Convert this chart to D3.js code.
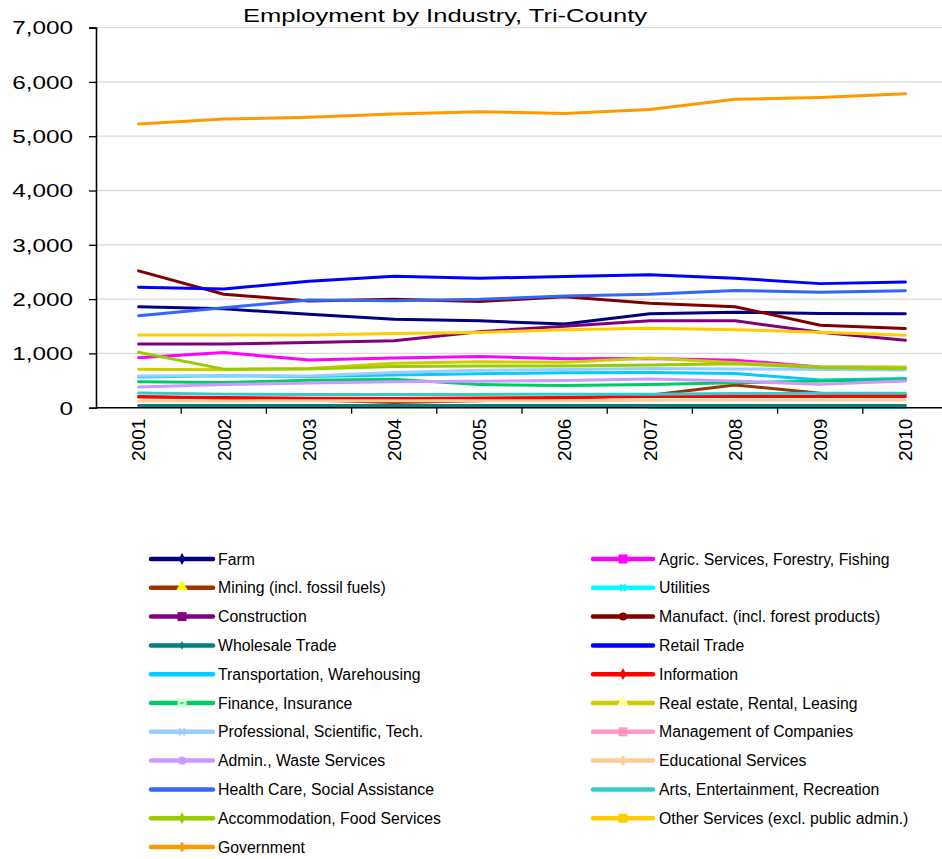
<!DOCTYPE html>
<html>
<head>
<meta charset="utf-8">
<script src="https://cdn.jsdelivr.net/npm/d3@7"></script>
<style>
  html, body { margin: 0; padding: 0; background: #fff; overflow: hidden; }
  svg { display: block; font-family: "Liberation Sans", Arial, sans-serif; }
</style>
</head>
<body>
<svg id="chart" width="942" height="859"></svg>
<script>
// ---------- data ----------
const years = ["2001","2002","2003","2004","2005","2006","2007","2008","2009","2010"];
const yTicks = [0, 1000, 2000, 3000, 4000, 5000, 6000, 7000];
const title = "Employment by Industry, Tri-County";

const seriesNames = [
  "Farm", "Agric. Services, Forestry, Fishing",
  "Mining (incl. fossil fuels)", "Utilities",
  "Construction", "Manufact. (incl. forest products)",
  "Wholesale Trade", "Retail Trade",
  "Transportation, Warehousing", "Information",
  "Finance, Insurance", "Real estate, Rental, Leasing",
  "Professional, Scientific, Tech.", "Management of Companies",
  "Admin., Waste Services", "Educational Services",
  "Health Care, Social Assistance", "Arts, Entertainment, Recreation",
  "Accommodation, Food Services", "Other Services (excl. public admin.)",
  "Government"
];

const farm          = [1860, 1820, 1720, 1630, 1600, 1540, 1730, 1760, 1735, 1730];
const agric         = [920, 1015, 880, 915, 945, 900, 905, 875, 750, 740];
const mining        = [205, 175, 140, 95, 130, 180, 230, 420, 265, 250];
const utilities     = [null, null, null, null, null, null, 10, 10, 10, 10];
const construction  = [1175, 1175, 1200, 1235, 1400, 1500, 1600, 1600, 1390, 1240];
const manufact      = [2520, 2090, 1965, 1995, 1955, 2045, 1925, 1860, 1520, 1460];
const wholesale     = [40, 40, 40, 40, 40, 40, 40, 40, 40, 40];
const retail        = [2220, 2185, 2330, 2420, 2385, 2415, 2450, 2385, 2285, 2315];
const transport     = [565, 590, 575, 600, 625, 645, 650, 630, 510, 540];
const information   = [195, 190, 175, 170, 180, 190, 205, 205, 205, 205];
const finance       = [480, 465, 505, 525, 425, 410, 425, 460, 490, 520];
const realEstate    = [710, 700, 720, 820, 845, 835, 915, 830, 750, 750];
const professional  = [585, 590, 585, 650, 690, 705, 720, 715, 705, 695];
const management    = [null, null, null, null, null, null, null, null, null, null];
const admin         = [380, 425, 455, 480, 485, 500, 530, 490, 430, 490];
const educational   = [125, 125, 130, 130, 130, 130, 135, 140, 140, 140];
const health        = [1695, 1840, 1985, 1970, 1995, 2055, 2090, 2160, 2125, 2155];
const arts          = [270, 250, 245, 245, 245, 250, 250, 260, 265, 265];
const accommodation = [1020, 710, 715, 760, 770, 770, 785, 810, 740, 720];
const otherServices = [1340, 1340, 1340, 1365, 1385, 1435, 1465, 1435, 1390, 1335];
const government    = [5225, 5315, 5350, 5410, 5450, 5420, 5490, 5680, 5715, 5780];

const seriesValues = [farm, agric, mining, utilities, construction, manufact, wholesale, retail,
  transport, information, finance, realEstate, professional, management, admin, educational,
  health, arts, accommodation, otherServices, government];

const colors = ["#000080", "#FF00FF", "#993300", "#00FFFF", "#800080", "#800000", "#008080", "#0000FF",
  "#00CCFF", "#FF0000", "#00CC66", "#CCCC00", "#99CCFF", "#FF99CC", "#CC99FF", "#FFCC99",
  "#3366FF", "#33CCCC", "#99CC00", "#FFCC00", "#FF9900"];

// legend marker: [shape, fill]
const markers = [
  ["diamond", "#000080"], ["square", "#FF00FF"], ["triangle", "#FFFF00"], ["star", "#00FFFF"],
  ["squareX", "#800080"], ["circle", "#800000"], ["smalldiamond", "#008080"], ["none", null],
  ["none", null], ["diamond", "#FF0000"], ["squareDash", "#CCFFCC"], ["triangle", "#FFFF99"],
  ["star", "#99CCFF"], ["square", "#FF99CC"], ["circle", "#CC99FF"], ["plus", "#FFCC99"],
  ["none", null], ["none", null], ["diamond", "#99CC00"], ["square", "#FFCC00"], ["plus", "#FF9900"]
];

// ---------- layout ----------
const svg = d3.select("#chart");
const plotLeft = 96, plotRight = 948, plotTop = 27.6, plotBottom = 407.7;

const x = d3.scaleBand().domain(years).range([plotLeft, plotRight]).padding(0);
const y = d3.scaleLinear().domain([0, 7000]).range([plotBottom, plotTop]);
const cx = d => x(d) + x.bandwidth() / 2;

// gridlines
svg.append("g").selectAll("line").data(yTicks.filter(t => t > 0)).join("line")
  .attr("x1", plotLeft).attr("x2", 942)
  .attr("y1", d => y(d)).attr("y2", d => y(d))
  .attr("stroke", "#D9D9D9").attr("stroke-width", 1.3);

// y axis
const yAxis = svg.append("g").attr("transform", `translate(${plotLeft},0)`)
  .call(d3.axisLeft(y).tickValues(yTicks).tickSize(7).tickFormat(() => ""));
yAxis.select(".domain").attr("stroke", "#000").attr("stroke-width", 1.6);
yAxis.selectAll(".tick line").attr("stroke", "#000").attr("stroke-width", 1.3);

svg.append("g").selectAll("text").data(yTicks).join("text")
  .attr("transform", d => `translate(73,${y(d)}) scale(1.28,1)`)
  .attr("text-anchor", "end").attr("dy", "0.36em")
  .attr("font-size", 19).attr("fill", "#000")
  .text(d => d3.format(",")(d));

// lines
const line = d3.line()
  .defined(d => d.v != null)
  .x(d => cx(d.year))
  .y(d => y(d.v));

const lineG = svg.append("g");
seriesValues.forEach((vals, i) => {
  const pts = years.map((yr, j) => ({year: yr, v: vals[j]}));
  lineG.append("path").datum(pts)
    .attr("d", line)
    .attr("fill", "none")
    .attr("stroke", colors[i])
    .attr("stroke-width", 3)
    .attr("stroke-linejoin", "round")
    .attr("stroke-linecap", "round");
});

// x axis
const xAxis = svg.append("g").attr("transform", `translate(0,${plotBottom})`);
xAxis.append("line").attr("x1", plotLeft).attr("x2", 942).attr("y1", 0).attr("y2", 0)
  .attr("stroke", "#000").attr("stroke-width", 1.6);
xAxis.selectAll("line.tk").data(years.slice(1)).join("line").attr("class", "tk")
  .attr("x1", d => x(d)).attr("x2", d => x(d)).attr("y1", 0).attr("y2", 6)
  .attr("stroke", "#000").attr("stroke-width", 1.3);
xAxis.selectAll("text").data(years).join("text")
  .attr("transform", d => `translate(${cx(d)},11) rotate(-90)`)
  .attr("text-anchor", "end").attr("dy", "0.36em")
  .attr("font-size", 19).attr("fill", "#000")
  .text(d => d);

// title
svg.append("text").attr("x", 445).attr("y", 22)
  .attr("text-anchor", "middle").attr("font-size", 19)
  .attr("textLength", 404).attr("lengthAdjust", "spacingAndGlyphs")
  .text(title);

// legend
const legendRowY = d3.range(11).map(i => 559 + i * 28.8);
const legCols = [{x1: 151, x2: 213, tx: 218}, {x1: 593, x2: 653, tx: 659}];
const legend = svg.append("g");
seriesNames.forEach((name, i) => {
  const col = legCols[i % 2];
  const ry = legendRowY[Math.floor(i / 2)];
  const g = legend.append("g");
  g.append("line").attr("x1", col.x1).attr("x2", col.x2).attr("y1", ry).attr("y2", ry)
    .attr("stroke", colors[i]).attr("stroke-width", 4.5).attr("stroke-linecap", "round");
  const mx = (col.x1 + col.x2) / 2;
  const [shape, fill] = markers[i];
  const c = colors[i];
  if (shape === "diamond") {
    g.append("path").attr("d", d3.symbol(d3.symbolDiamond, 40)()).attr("transform", `translate(${mx},${ry})`).attr("fill", fill);
  } else if (shape === "smalldiamond") {
    g.append("path").attr("d", d3.symbol(d3.symbolDiamond, 22)()).attr("transform", `translate(${mx},${ry})`).attr("fill", fill);
  } else if (shape === "square" || shape === "squareX") {
    g.append("rect").attr("x", mx - 4.5).attr("y", ry - 4.5).attr("width", 9).attr("height", 9).attr("fill", fill);
  } else if (shape === "squareDash") {
    g.append("rect").attr("x", mx - 4.5).attr("y", ry - 4.5).attr("width", 9).attr("height", 9).attr("fill", fill);
    g.append("line").attr("x1", mx - 1.5).attr("x2", mx + 1.5).attr("y1", ry).attr("y2", ry).attr("stroke", c).attr("stroke-width", 1.5);
  } else if (shape === "triangle") {
    g.append("path").attr("d", d3.symbol(d3.symbolTriangle, 55)()).attr("transform", `translate(${mx},${ry - 1})`).attr("fill", fill);
  } else if (shape === "circle") {
    g.append("circle").attr("cx", mx).attr("cy", ry).attr("r", 4).attr("fill", fill);
  } else if (shape === "star") {
    g.append("path").attr("d", d3.symbol(d3.symbolCross, 40)()).attr("transform", `translate(${mx},${ry}) rotate(45)`).attr("fill", fill);
  } else if (shape === "plus") {
    g.append("path").attr("d", d3.symbol(d3.symbolCross, 45)()).attr("transform", `translate(${mx},${ry})`).attr("fill", fill);
  }
  g.append("text").attr("x", col.tx).attr("y", ry).attr("dy", "0.36em")
    .attr("font-size", 15.8).attr("fill", "#000").text(name);
});
</script>
</body>
</html>
